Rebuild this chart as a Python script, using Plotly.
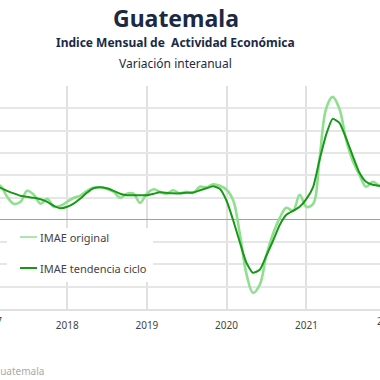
import pandas as pd
import plotly.graph_objects as go

months = pd.date_range("2016-12-01", periods=62, freq="MS")

imae_original = [4.71, 4.44, 4.71, 4.57, 3.09, 2.15, 2.42, 3.90, 3.36, 2.15, 2.82, 1.75,
                 1.88, 2.42, 2.96, 3.23, 3.90, 4.30, 4.37, 4.17, 3.77, 2.96, 3.50, 3.50,
                 2.29, 3.50, 4.10, 3.77, 3.50, 3.97, 3.56, 3.77, 3.63, 4.44, 4.37, 4.77,
                 4.57, 4.04, 2.56, -1.75, -7.26, -9.82, -8.74, -4.84, -1.88, 0.27, 1.61, 1.21,
                 3.36, 1.75, 2.15, 7.94, 14.93, 16.54, 14.93, 10.89, 7.94, 6.05, 4.44, 5.11,
                 4.57, 4.57]

imae_tendencia = [4.71, 4.57, 4.44, 4.30, 3.90, 3.56, 3.23, 3.09, 2.96, 2.76, 2.42, 1.88,
                  1.55, 1.75, 2.22, 2.82, 3.63, 4.24, 4.37, 4.24, 3.90, 3.50, 3.30, 3.30,
                  3.30, 3.30, 3.50, 3.70, 3.63, 3.56, 3.56, 3.63, 3.67, 3.97, 4.24, 4.51,
                  4.17, 2.56, -0.13, -2.96, -5.78, -7.13, -6.73, -4.84, -2.82, -0.67, 0.67, 1.21,
                  1.75, 2.82, 4.44, 7.94, 11.43, 13.58, 13.05, 11.03, 8.61, 6.32, 5.11, 4.71,
                  4.57, 4.44]

series_names = ["IMAE original", "IMAE tendencia ciclo"]
series_colors = ["#8fdf8f", "#179917"]
year_ticks = ["2017", "2018", "2019", "2020", "2021", "2022"]

title_text = "Guatemala"
subtitle_text = "Indice Mensual de  Actividad Económica"
subtitle2_text = "Variación interanual"
source_text = "Fuente: Banco de Guatemala"

FONT = "Noto Sans"

fig = go.Figure()
fig.add_trace(go.Scatter(x=months, y=imae_original, mode="lines", name=series_names[0],
                         line=dict(color=series_colors[0], width=2.6, shape="spline", smoothing=1.0),
                         showlegend=False))
fig.add_trace(go.Scatter(x=months, y=imae_tendencia, mode="lines", name=series_names[1],
                         line=dict(color=series_colors[1], width=2, shape="spline", smoothing=0.5),
                         showlegend=False))

W, H = 380, 380
top, bottom = 86, 309
def py(ypx):
    return (bottom - ypx) / (bottom - top)
def px(xpx):
    return xpx / W

annotations = [
    dict(text=f"<b>{title_text}</b>", x=px(176), y=py(18), font=dict(size=23, color="#1b2a44", family=FONT)),
    dict(text=f"<b>{subtitle_text}</b>", x=px(175), y=py(42), font=dict(size=12, color="#1b2a44", family=FONT)),
    dict(text=subtitle2_text, x=px(175), y=py(63.5), font=dict(size=12, color="#1b2a44", family=FONT)),
    dict(text=source_text, x=px(46), y=py(371), xanchor="right", font=dict(size=10, color="#aaaaaa", family=FONT)),
    dict(text=year_ticks[0], x=px(-10), y=py(321), font=dict(size=10, color="#444444", family=FONT)),
    dict(text=year_ticks[-1], x=px(388), y=py(321), font=dict(size=10, color="#444444", family=FONT)),
    dict(text=series_names[0], x=px(38), y=py(237), xanchor="left", font=dict(size=11, color="#444444", family=FONT)),
    dict(text=series_names[1], x=px(38), y=py(268), xanchor="left", font=dict(size=11, color="#444444", family=FONT)),
]
for a in annotations:
    a.setdefault("xanchor", "center")
    a.update(xref="paper", yref="paper", yanchor="middle", showarrow=False)

shapes = [
    dict(type="rect", xref="paper", yref="paper", x0=px(7), x1=px(153), y0=py(282), y1=py(228),
         fillcolor="white", line=dict(width=0), layer="above"),
    dict(type="line", xref="paper", yref="paper", x0=px(20), x1=px(37), y0=py(237), y1=py(237),
         line=dict(color=series_colors[0], width=1.5), layer="above"),
    dict(type="line", xref="paper", yref="paper", x0=px(20), x1=px(37), y0=py(268), y1=py(268),
         line=dict(color=series_colors[1], width=2), layer="above"),
]

fig.update_layout(
    width=W, height=H,
    margin=dict(l=0, r=0, t=top, b=H - bottom, pad=0),
    paper_bgcolor="white", plot_bgcolor="white",
    showlegend=False,
    annotations=annotations,
    shapes=shapes,
    font=dict(family=FONT, size=10, color="#444444"),
)
fig.update_xaxes(
    type="date", range=["2017-02-27", "2021-12-04"],
    tickvals=[f"{y}-01-01" for y in year_ticks], ticktext=year_ticks,
    showgrid=True, gridcolor="#e0e0e0", gridwidth=1.5,
    showline=True, linecolor="#e0e0e0", linewidth=1.5,
    ticks="", ticklabelstandoff=6, zeroline=False,
    tickfont=dict(size=10, color="#444444", family=FONT),
)
fig.update_yaxes(
    range=[-12, 18], dtick=3, showticklabels=False,
    showgrid=True, gridcolor="#e6e6e6", gridwidth=1.5,
    zeroline=True, zerolinecolor="#a0a0a0", zerolinewidth=1.2,
    showline=False,
)

fig.write_html("out.html", config={"displayModeBar": False},
               post_script="document.body.style.margin='0';document.body.style.overflow='hidden';")
